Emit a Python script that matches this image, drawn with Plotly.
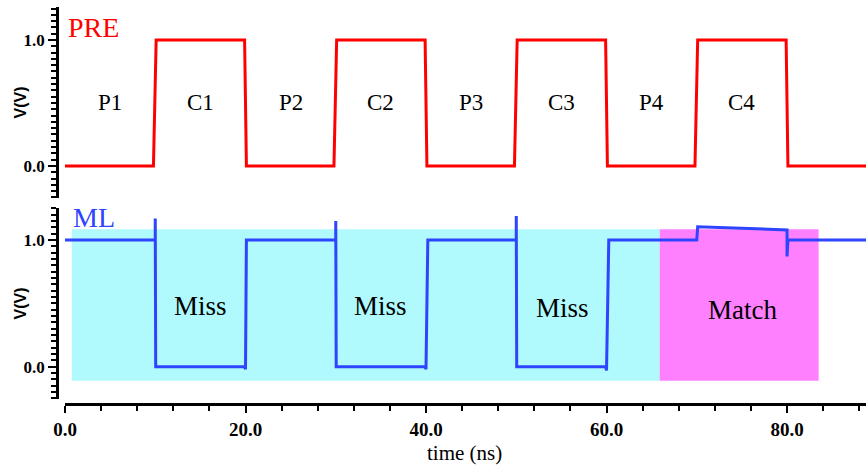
import plotly.graph_objects as go

# PRE signal (top)
pre_t = [0, 9.8, 10.1, 19.9, 20.1, 29.8, 30.1, 39.9, 40.1,
         49.8, 50.1, 59.9, 60.1, 69.8, 70.1, 79.9, 80.1, 88.8]
pre_v = [0, 0, 1, 1, 0, 0, 1, 1, 0,
         0, 1, 1, 0, 0, 1, 1, 0, 0]

# ML signal (bottom)
ml_t = [0, 10.0, 10.0, 10.05, 19.9, 20.0, 20.1,
        30.0, 30.0, 30.05, 39.9, 40.0, 40.2,
        50.0, 50.0, 50.05, 59.9, 60.0, 60.25,
        70.0, 70.1, 80.0, 80.0, 80.1, 88.8]
ml_v = [1.0, 1.0, 1.17, 0.0, 0.0, -0.02, 1.0,
        1.0, 1.15, 0.0, 0.0, -0.02, 1.0,
        1.0, 1.19, 0.0, 0.0, -0.03, 1.0,
        1.0, 1.105, 1.08, 0.87, 1.0, 1.0]

# phase labels on the PRE plot
phase_labels = ["P1", "C1", "P2", "C2", "P3", "C3", "P4", "C4"]
phase_x = [5, 15, 25, 35, 45, 55, 65, 75]
phase_y = [0.5] * 8

# result labels on the ML plot
result_labels = ["Miss", "Miss", "Miss", "Match"]
result_x = [15, 35, 55.1, 75.1]
result_y = [0.48, 0.48, 0.46, 0.45]

# shaded regions on the ML plot
region_x0 = [0.75, 65.9]
region_x1 = [65.9, 83.5]
region_y0 = [-0.11, -0.11]
region_y1 = [1.085, 1.085]
region_colors = ["#B0F9FC", "#FF80FF"]

x_ticks = [0, 20, 40, 60, 80]

RED = "#FF0000"
BLUE = "#2E44FF"
SERIF = "Liberation Serif"

W, H = 866, 465
ML_, MT, MB = 57, 7, 61
PW = W - ML_
PH = H - MT - MB

fig = go.Figure()

fig.add_trace(go.Scatter(x=pre_t, y=pre_v, mode="lines", line=dict(color=RED, width=3),
                         xaxis="x", yaxis="y", showlegend=False, hoverinfo="skip"))
fig.add_trace(go.Scatter(x=ml_t, y=ml_v, mode="lines", line=dict(color=BLUE, width=3),
                         xaxis="x", yaxis="y2", showlegend=False, hoverinfo="skip"))

shapes = []
for x0, x1, y0, y1, c in zip(region_x0, region_x1, region_y0, region_y1, region_colors):
    shapes.append(dict(type="rect", xref="x", yref="y2", x0=x0, x1=x1, y0=y0, y1=y1,
                       fillcolor=c, line=dict(width=0), layer="below"))

annotations = []
for lab, x, y in zip(phase_labels, phase_x, phase_y):
    annotations.append(dict(text=lab, x=x, y=y, xref="x", yref="y", showarrow=False,
                            font=dict(family=SERIF, size=23, color="black")))
for lab, x, y in zip(result_labels, result_x, result_y):
    annotations.append(dict(text=lab, x=x, y=y, xref="x", yref="y2", showarrow=False,
                            font=dict(family=SERIF, size=27, color="black")))

annotations.append(dict(text="PRE", x=0.1, y=1.1, xref="x", yref="y", xanchor="left",
                        showarrow=False, font=dict(family=SERIF, size=28, color=RED)))
annotations.append(dict(text="ML", x=0.7, y=1.18, xref="x", yref="y2", xanchor="left",
                        showarrow=False, font=dict(family=SERIF, size=28, color=BLUE)))

top_dom = [0.519, 1.0]
bot_dom = [0.0126, 0.4937]

# y axis titles
for dom in [top_dom, bot_dom]:
    annotations.append(dict(text="V(V)", x=(20 - ML_) / PW, y=sum(dom) / 2,
                            xref="paper", yref="paper", textangle=-90, showarrow=False,
                            xanchor="center", yanchor="middle",
                            font=dict(family="Liberation Sans", size=16, color="black",
                                      weight="bold")))

# x axis title
annotations.append(dict(text="time (ns)", x=(464 - ML_) / PW, y=-(453 - (MT + PH)) / PH,
                        xref="paper", yref="paper", showarrow=False,
                        xanchor="center", yanchor="middle",
                        font=dict(family=SERIF, size=21, color="black")))

yaxis_common = dict(
    tickvals=[0, 1], ticktext=["0.0", "1.0"],
    ticks="outside", ticklen=8, tickwidth=2, tickcolor="black",
    minor=dict(dtick=0.05, tick0=0, ticks="outside", ticklen=5, tickwidth=2, tickcolor="black"),
    showline=True, linecolor="black", linewidth=2.5,
    showgrid=False, zeroline=False,
    tickfont=dict(family=SERIF, size=17, color="black", weight="bold"),
    anchor="free", position=0, automargin=False,
)

fig.update_layout(
    width=W, height=H,
    margin=dict(l=ML_, r=0, t=MT, b=MB, pad=0),
    plot_bgcolor="white", paper_bgcolor="white",
    shapes=shapes,
    annotations=annotations,
    xaxis=dict(
        domain=[8 / PW, 1], range=[0, 88.75],
        tickvals=x_ticks, ticktext=[f"{v:.1f}" for v in x_ticks],
        ticks="outside", ticklen=7, tickwidth=2, tickcolor="black",
        minor=dict(dtick=4, tick0=0, ticks="outside", ticklen=5, tickwidth=2, tickcolor="black"),
        showline=True, linecolor="black", linewidth=2.5,
        showgrid=False, zeroline=False,
        tickfont=dict(family=SERIF, size=19, color="black", weight="bold"),
        anchor="free", position=0, automargin=False,
    ),
    yaxis=dict(domain=top_dom, range=[-0.254, 1.262], **yaxis_common),
    yaxis2=dict(domain=bot_dom, range=[-0.255, 1.253], **yaxis_common),
)

# drop the default 8px body margin so the figure fills the window exactly
fig.write_html("out.html", config={"displayModeBar": False},
               post_script="document.body.style.margin = '0';")
